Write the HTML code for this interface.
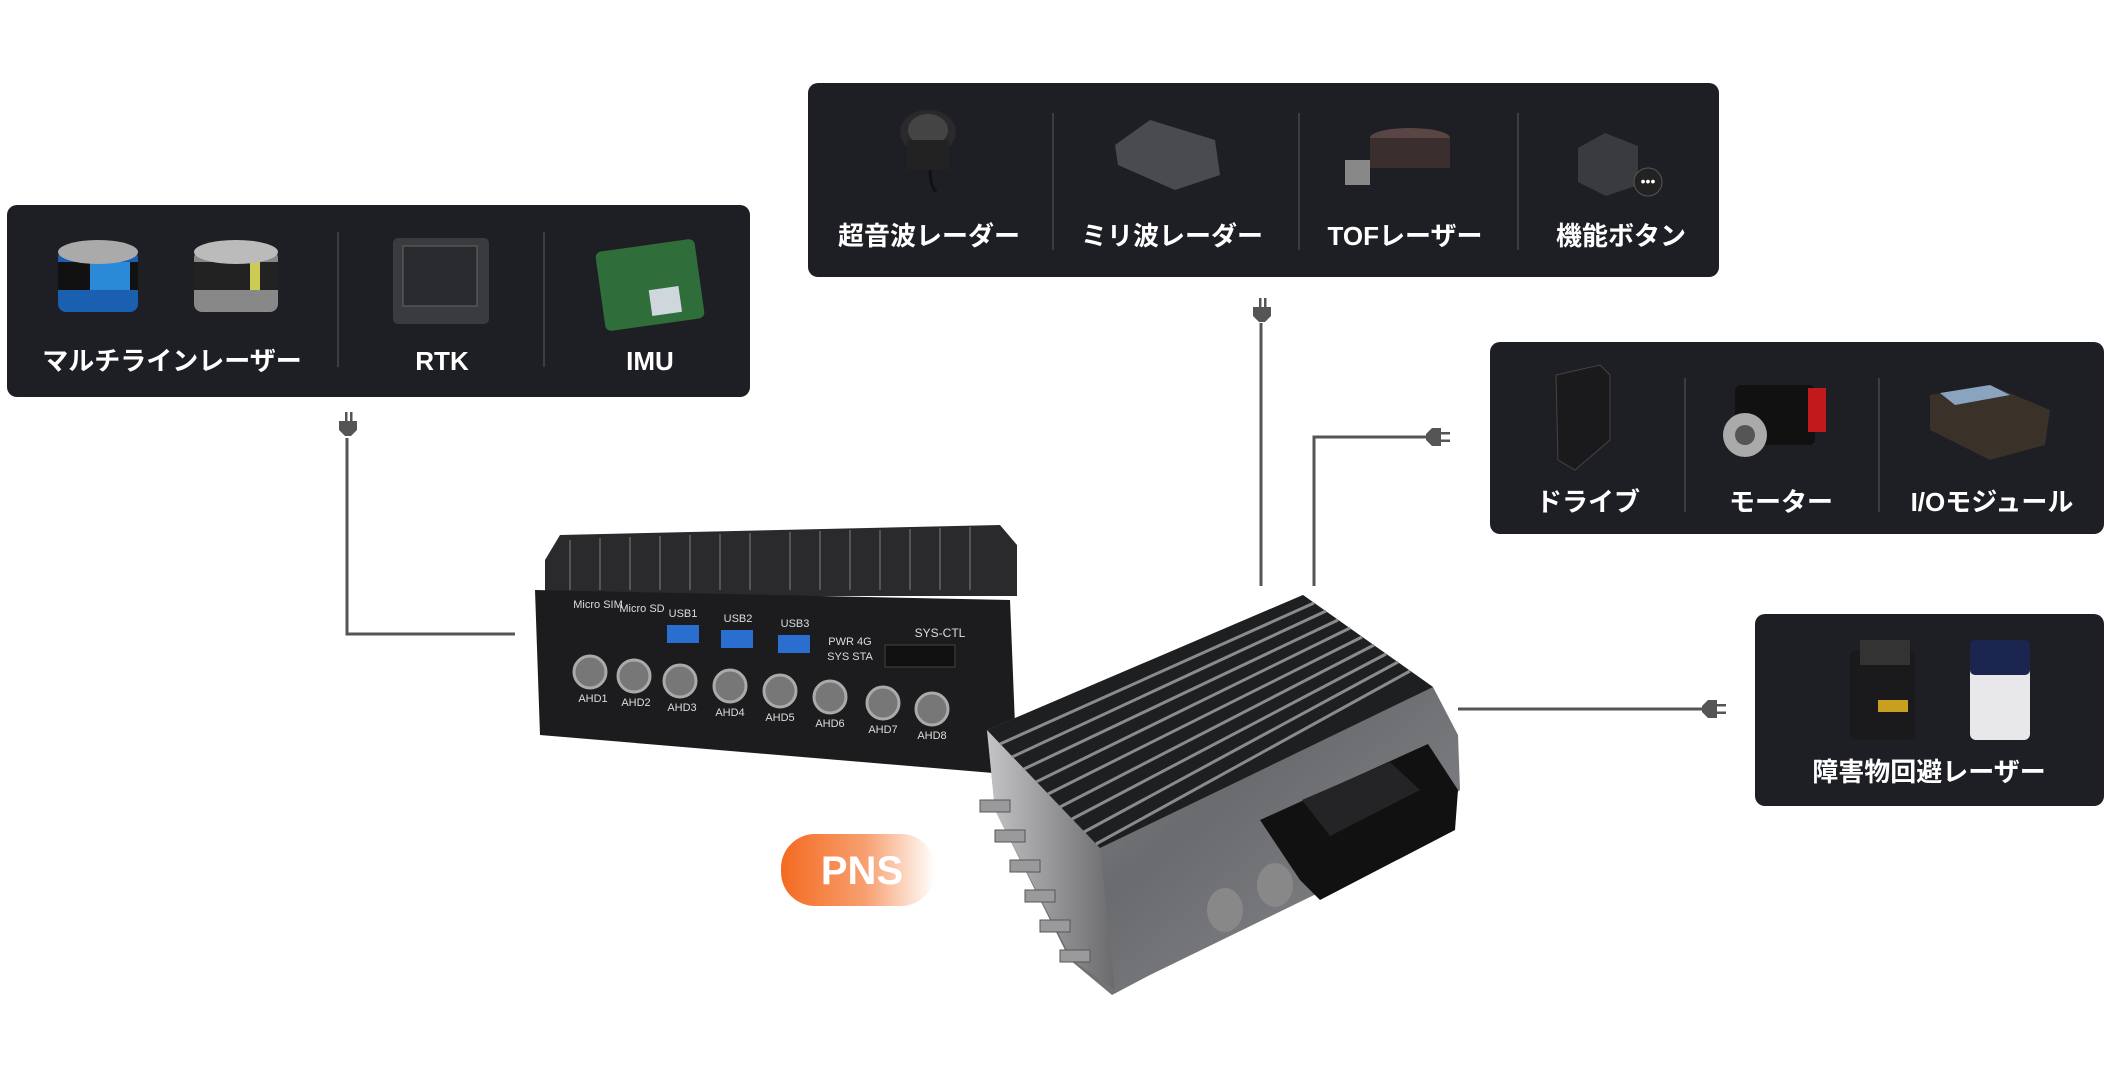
<!DOCTYPE html>
<html><head><meta charset="utf-8"><style>
html,body{margin:0;padding:0;background:#fff;width:2111px;height:1084px;overflow:hidden}
.t{font-family:"Liberation Sans","Noto Sans CJK JP",sans-serif;font-weight:bold;fill:#fff;font-size:26px;text-anchor:middle}
.s{font-family:"Liberation Sans",sans-serif;fill:#ddd;font-size:11px;text-anchor:middle}
</style></head><body>
<svg width="2111" height="1084" viewBox="0 0 2111 1084" xmlns="http://www.w3.org/2000/svg">
<defs>
<linearGradient id="pns" x1="0" x2="1"><stop offset="0" stop-color="#f46a20"/><stop offset="0.55" stop-color="#f7a070"/><stop offset="1" stop-color="#fff"/></linearGradient>
<linearGradient id="fr" x1="0" y1="0" x2="1" y2="1"><stop offset="0" stop-color="#9a9b9e"/><stop offset="0.5" stop-color="#6a6b6f"/><stop offset="1" stop-color="#8a8b8e"/></linearGradient>
<linearGradient id="side" x1="0" y1="0" x2="1" y2="0"><stop offset="0" stop-color="#c4c4c6"/><stop offset="1" stop-color="#6a6a6c"/></linearGradient>
<g id="plugV"><rect x="-2" y="0" width="2.5" height="9" fill="#555"/><rect x="3" y="0" width="2.5" height="9" fill="#555"/><path d="M-8 9 H10 V18 L4 24 H-2 L-8 18Z" fill="#555"/></g>
<g id="plugH"><path d="M0 -3 L6 -9 H15 V9 H6 L0 3Z" fill="#555"/><rect x="15" y="-5" width="9" height="2.5" fill="#555"/><rect x="15" y="2.5" width="9" height="2.5" fill="#555"/></g>
</defs>

<rect x="7" y="205" width="743" height="192" rx="10" fill="#1e1f24"/>
<rect x="808" y="83" width="911" height="194" rx="10" fill="#1e1f24"/>
<rect x="1490" y="342" width="614" height="192" rx="10" fill="#1e1f24"/>
<rect x="1755" y="614" width="349" height="192" rx="10" fill="#1e1f24"/>

<g stroke="#3c3d42" stroke-width="2">
<line x1="338" y1="232" x2="338" y2="367"/><line x1="544" y1="232" x2="544" y2="367"/>
<line x1="1053" y1="113" x2="1053" y2="250"/><line x1="1299" y1="113" x2="1299" y2="250"/><line x1="1518" y1="113" x2="1518" y2="250"/>
<line x1="1685" y1="378" x2="1685" y2="512"/><line x1="1879" y1="378" x2="1879" y2="512"/>
</g>

<text class="t" x="172" y="370">マルチラインレーザー</text>
<text class="t" x="442" y="370">RTK</text>
<text class="t" x="650" y="370">IMU</text>
<text class="t" x="929" y="245">超音波レーダー</text>
<text class="t" x="1172" y="245">ミリ波レーダー</text>
<text class="t" x="1405" y="245">TOFレーザー</text>
<text class="t" x="1621" y="245">機能ボタン</text>
<text class="t" x="1588" y="511">ドライブ</text>
<text class="t" x="1781" y="511">モーター</text>
<text class="t" x="1992" y="511">I/Oモジュール</text>
<text class="t" x="1929" y="781">障害物回避レーザー</text>

<g><rect x="58" y="250" width="80" height="62" rx="8" fill="#1a5fb0"/><rect x="58" y="262" width="80" height="28" fill="#111"/><rect x="90" y="262" width="40" height="28" fill="#2a8ad8"/><ellipse cx="98" cy="252" rx="40" ry="12" fill="#aaa"/></g>
<g><rect x="194" y="250" width="84" height="62" rx="8" fill="#888"/><rect x="194" y="262" width="84" height="28" fill="#222"/><rect x="250" y="262" width="10" height="28" fill="#cc5"/><ellipse cx="236" cy="252" rx="42" ry="12" fill="#bbb"/></g>
<rect x="393" y="238" width="96" height="86" rx="5" fill="#3a3b3e"/><rect x="403" y="246" width="74" height="60" fill="#2a2b2e" stroke="#666"/>
<g transform="rotate(-8 650 285)"><rect x="600" y="245" width="100" height="80" rx="6" fill="#2f6e3a"/><rect x="648" y="290" width="30" height="26" fill="#cfd6dc"/></g>
<ellipse cx="928" cy="132" rx="28" ry="22" fill="#2a2a2c"/><ellipse cx="928" cy="130" rx="20" ry="16" fill="#444"/><rect x="907" y="140" width="42" height="30" fill="#222"/><path d="M930 170 Q930 185 936 192" stroke="#111" stroke-width="3" fill="none"/>
<path d="M1115 145 L1150 120 L1215 140 L1220 175 L1175 190 L1118 165Z" fill="#4a4b4e"/>
<ellipse cx="1410" cy="138" rx="40" ry="10" fill="#5a4545"/><rect x="1370" y="138" width="80" height="30" fill="#3a2e2e"/><rect x="1345" y="160" width="25" height="25" fill="#888"/>
<path d="M1578 148 L1605 133 L1638 146 L1638 185 L1606 196 L1578 182Z" fill="#3a3b3e"/><circle cx="1648" cy="182" r="14" fill="#222" stroke="#555"/><text x="1648" y="186" font-size="14" fill="#fff" text-anchor="middle" font-family="Liberation Sans">•••</text>
<path d="M1556 375 L1600 365 L1610 375 L1610 440 L1575 470 L1558 460Z" fill="#1a1a1c" stroke="#444"/>
<rect x="1735" y="385" width="80" height="60" rx="6" fill="#111"/><rect x="1808" y="388" width="18" height="44" fill="#c21a1a"/><circle cx="1745" cy="435" r="22" fill="#aaa"/><circle cx="1745" cy="435" r="10" fill="#555"/>
<path d="M1930 395 L1990 385 L2050 410 L2045 445 L1990 460 L1930 430Z" fill="#3a3128"/><path d="M1940 393 L1990 385 L2010 395 L1955 405Z" fill="#8aa4c0"/>
<rect x="1850" y="650" width="65" height="90" rx="6" fill="#1a1a1c"/><rect x="1860" y="640" width="50" height="25" fill="#333"/><rect x="1878" y="700" width="30" height="12" fill="#c8a020"/>
<rect x="1970" y="645" width="60" height="95" rx="6" fill="#e8e8ea"/><rect x="1970" y="640" width="60" height="35" rx="5" fill="#1a2550"/>

<g stroke="#555" stroke-width="3" fill="none">
<polyline points="347,438 347,634 515,634"/>
<line x1="1261" y1="323" x2="1261" y2="586"/>
<polyline points="1314,586 1314,437 1427,437"/>
<line x1="1458" y1="709" x2="1703" y2="709"/>
</g>
<use href="#plugV" x="347" y="412"/>
<use href="#plugV" x="1261" y="298"/>
<use href="#plugH" x="1426" y="437"/>
<use href="#plugH" x="1702" y="709"/>

<!-- device 1 -->
<path d="M545 560 L560 535 L1000 525 L1017 545 L1017 596 L545 596Z" fill="#2a2a2c"/>
<g stroke="#555" stroke-width="2">
<line x1="570" y1="540" x2="570" y2="590"/><line x1="600" y1="538" x2="600" y2="590"/><line x1="630" y1="537" x2="630" y2="590"/><line x1="660" y1="536" x2="660" y2="590"/><line x1="690" y1="535" x2="690" y2="590"/><line x1="720" y1="534" x2="720" y2="590"/><line x1="750" y1="533" x2="750" y2="590"/><line x1="790" y1="532" x2="790" y2="590"/><line x1="820" y1="531" x2="820" y2="590"/><line x1="850" y1="530" x2="850" y2="590"/><line x1="880" y1="530" x2="880" y2="590"/><line x1="910" y1="529" x2="910" y2="590"/><line x1="940" y1="528" x2="940" y2="590"/><line x1="970" y1="527" x2="970" y2="590"/>
</g>
<path d="M535 590 L1010 600 L1017 775 L540 735Z" fill="#1c1c1e"/>
<g class="s"><text x="598" y="608">Micro SIM</text><text x="642" y="612">Micro SD</text><text x="683" y="617">USB1</text><text x="738" y="622">USB2</text><text x="795" y="627">USB3</text><text x="940" y="637" font-size="12">SYS-CTL</text><text x="850" y="645">PWR 4G</text><text x="850" y="660">SYS STA</text></g>
<rect x="667" y="625" width="32" height="18" fill="#2a6fd0"/><rect x="721" y="630" width="32" height="18" fill="#2a6fd0"/><rect x="778" y="635" width="32" height="18" fill="#2a6fd0"/>
<rect x="885" y="645" width="70" height="22" fill="#111" stroke="#444"/>
<g fill="#777" stroke="#aaa" stroke-width="3">
<circle cx="590" cy="672" r="16"/><circle cx="634" cy="676" r="16"/><circle cx="680" cy="681" r="16"/><circle cx="730" cy="686" r="16"/><circle cx="780" cy="691" r="16"/><circle cx="830" cy="697" r="16"/><circle cx="883" cy="703" r="16"/><circle cx="932" cy="709" r="16"/>
</g>
<g class="s"><text x="593" y="702">AHD1</text><text x="636" y="706">AHD2</text><text x="682" y="711">AHD3</text><text x="730" y="716">AHD4</text><text x="780" y="721">AHD5</text><text x="830" y="727">AHD6</text><text x="883" y="733">AHD7</text><text x="932" y="739">AHD8</text></g>

<!-- device 2 -->
<path d="M987 730 L1303 595 L1433 687 L1458 735 L1460 790 L1345 880 L1150 975 L1112 995 L1070 960 L995 810Z" fill="url(#fr)"/>
<path d="M987 730 L1100 848 L1115 990 L1072 960 L995 810Z" fill="url(#side)"/>
<path d="M987 730 L1303 595 L1433 687 L1100 848Z" fill="#1e1f21"/>
<g stroke="#8a8b8e" stroke-width="3">
<line x1="1000" y1="744" x2="1314" y2="603"/><line x1="1012" y1="757" x2="1326" y2="611"/><line x1="1024" y1="769" x2="1338" y2="620"/><line x1="1036" y1="782" x2="1350" y2="628"/><line x1="1048" y1="794" x2="1362" y2="637"/><line x1="1060" y1="807" x2="1374" y2="645"/><line x1="1072" y1="819" x2="1386" y2="654"/><line x1="1084" y1="832" x2="1398" y2="662"/><line x1="1096" y1="844" x2="1410" y2="671"/>
</g>
<path d="M1260 820 L1428 744 L1458 790 L1455 830 L1320 900 L1300 880Z" fill="#111"/>
<path d="M1302 800 L1390 762 L1420 790 L1330 836Z" fill="#242426"/>
<g fill="#888"><ellipse cx="1225" cy="910" rx="18" ry="22"/><ellipse cx="1275" cy="885" rx="18" ry="22"/></g>
<g fill="#9a9a9c" stroke="#555"><rect x="980" y="800" width="30" height="12"/><rect x="995" y="830" width="30" height="12"/><rect x="1010" y="860" width="30" height="12"/><rect x="1025" y="890" width="30" height="12"/><rect x="1040" y="920" width="30" height="12"/><rect x="1060" y="950" width="30" height="12"/></g>

<rect x="781" y="834" width="154" height="72" rx="34" fill="url(#pns)"/>
<text x="862" y="884" font-family="Liberation Sans" font-weight="bold" font-size="40" fill="#fff" text-anchor="middle">PNS</text>
</svg>
</body></html>
